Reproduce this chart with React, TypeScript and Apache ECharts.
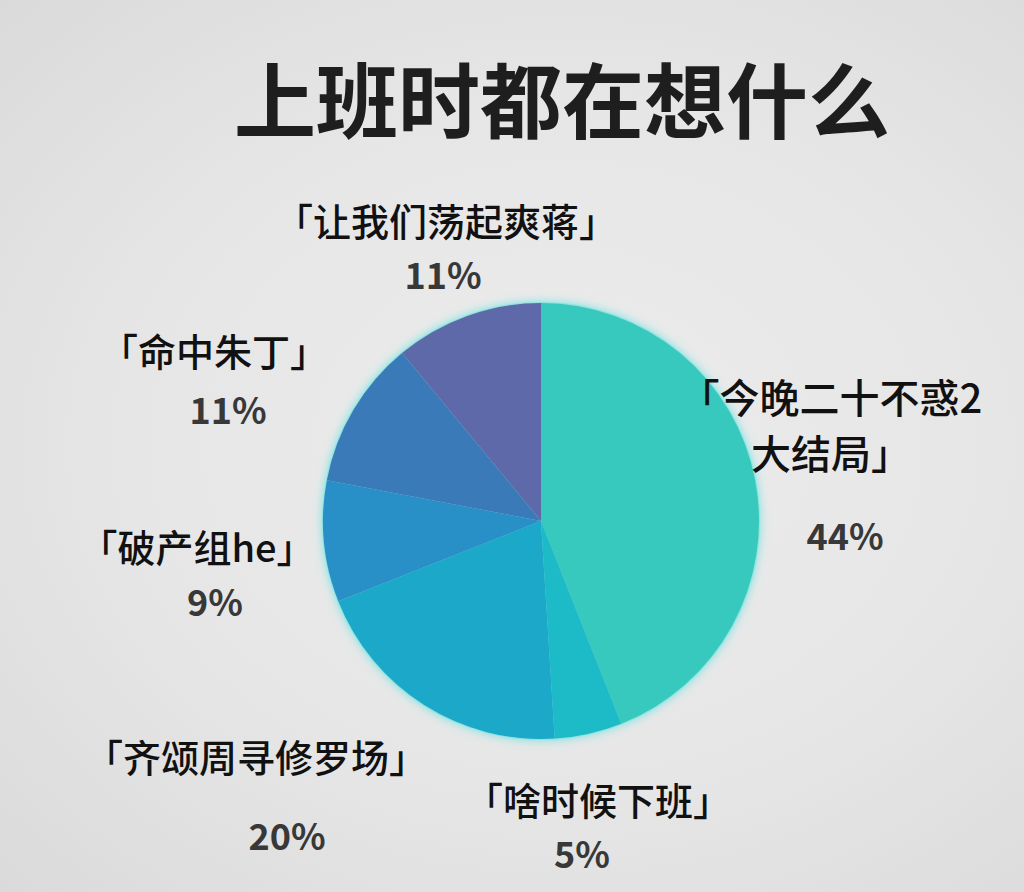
import React, { useEffect, useRef } from 'react';
import * as echarts from 'echarts';

const title = '上班时都在想什么';

// slices, clockwise from 12 o'clock
const names = [
  '「今晚二十不惑2\n大结局」',
  '「啥时候下班」',
  '「齐颂周寻修罗场」',
  '「破产组he」',
  '「命中朱丁」',
  '「让我们荡起爽蒋」',
];
const values = [44, 5, 20, 9, 11, 11];
const colors = ['#37c9bd', '#1dbac7', '#1ca8c8', '#2890c6', '#3b7ab8', '#5d69a9'];

// label anchor points (name centre, percent centre) and name font sizes
const nameAt: [number, number][] = [
  [831, 424],
  [598, 798],
  [256, 755],
  [197, 545],
  [214, 349],
  [446, 219],
];
const pctAt: [number, number][] = [
  [845, 534],
  [582, 852],
  [287, 834],
  [215, 600],
  [228, 408],
  [443, 273],
];
const nameSize = [40, 38, 38, 38, 38, 38];

const FONT = '"Noto Sans CJK SC", "Noto Sans", sans-serif';

export default function App() {
  const elRef = useRef<HTMLDivElement>(null);

  useEffect(() => {
    document.body.style.margin = '0';
    if (!elRef.current) return;
    const chart = echarts.init(elRef.current, null, { renderer: 'svg' });

    const graphic: any[] = [
      {
        type: 'text',
        x: 562,
        y: 96,
        style: {
          text: title,
          fontFamily: FONT,
          fontSize: 82,
          fontWeight: 'bold',
          fill: '#1e1e1e',
          align: 'center',
          verticalAlign: 'middle',
        },
      },
    ];

    names.forEach((n, i) => {
      graphic.push({
        type: 'text',
        x: nameAt[i][0],
        y: nameAt[i][1],
        z: 10,
        style: {
          text: n,
          fontFamily: FONT,
          fontSize: nameSize[i],
          fontWeight: 500,
          lineHeight: 56,
          fill: '#111',
          align: 'center',
          verticalAlign: 'middle',
        },
      });
      graphic.push({
        type: 'text',
        x: pctAt[i][0],
        y: pctAt[i][1],
        z: 10,
        style: {
          text: `${values[i]}%`,
          fontFamily: FONT,
          fontSize: 36,
          fontWeight: 'bold',
          fill: '#383838',
          align: 'center',
          verticalAlign: 'middle',
        },
      });
    });

    const total = values.reduce((a, b) => a + b, 0);

    chart.setOption({
      animation: false,
      backgroundColor: 'transparent',
      graphic,
      series: [
        {
          // soft cyan halo behind the whole disc
          type: 'pie',
          center: [541, 521],
          radius: 219,
          silent: true,
          z: 1,
          label: { show: false },
          labelLine: { show: false },
          itemStyle: {
            color: '#8fe3e0',
            shadowBlur: 10,
            shadowColor: 'rgba(90, 225, 225, 0.8)',
          },
          data: [{ name: 'all', value: total }],
        },
        {
          type: 'pie',
          center: [541, 521],
          radius: 218,
          startAngle: 90,
          clockwise: true,
          silent: true,
          z: 2,
          label: { show: false },
          labelLine: { show: false },
          itemStyle: { borderWidth: 0 },
          data: values.map((v, i) => ({
            name: names[i],
            value: v,
            itemStyle: { color: colors[i] },
          })),
        },
      ],
    });

    return () => chart.dispose();
  }, []);

  return (
    <div
      ref={elRef}
      style={{
        width: 1024,
        height: 892,
        background: 'radial-gradient(ellipse at 55% 50%, #ececec 0%, #e6e6e6 55%, #dadada 100%)',
      }}
    />
  );
}
